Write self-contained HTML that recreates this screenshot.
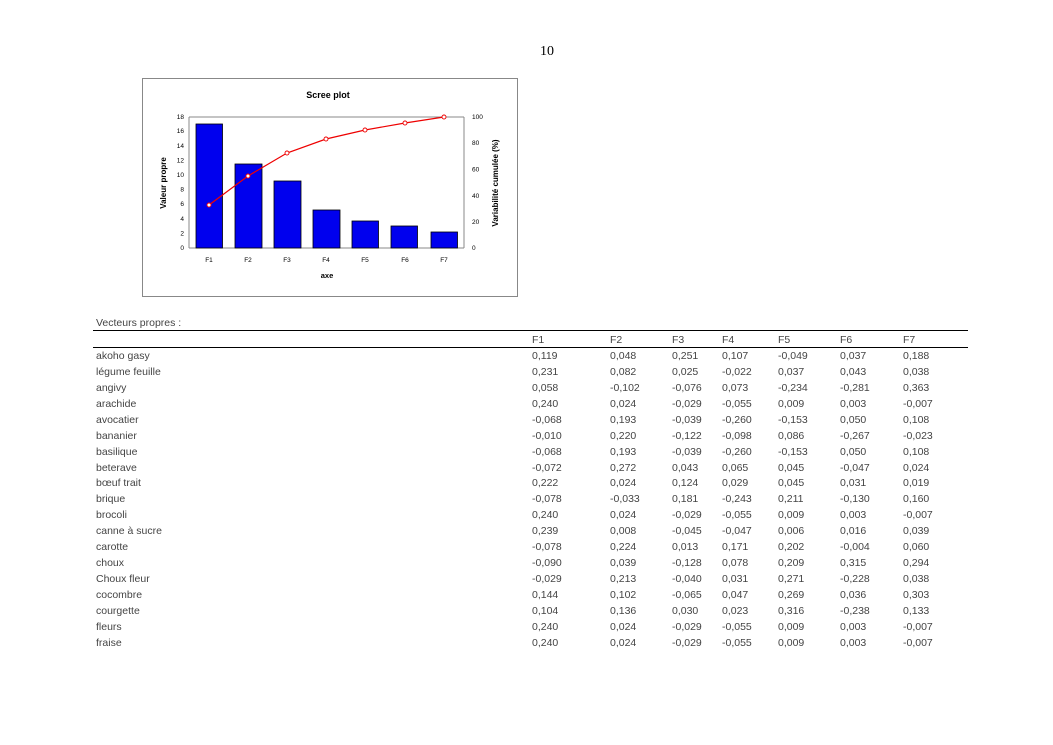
<!DOCTYPE html>
<html><head><meta charset="utf-8"><style>
body{margin:0;width:1053px;height:745px;background:#fff;position:relative;overflow:hidden;font-family:"Liberation Sans",sans-serif}
.r{position:absolute;left:0;height:16px;width:1053px;font-size:10.5px;color:#444;}
.r span{position:absolute;top:0;white-space:nowrap}
.a{left:96px}.b{left:532px}.c{left:610px}.d{left:672px}.e{left:722px}.f{left:778px}.g{left:840px}.h{left:903px}
</style></head><body>
<div style="position:absolute;left:540px;top:44px;font-family:'Liberation Serif',serif;font-size:14px">10</div>
<svg style="position:absolute;left:0;top:0" width="1053" height="360" font-family="Liberation Sans, sans-serif">
<rect x="142.5" y="78.5" width="375" height="218" fill="#fff" stroke="#888"/>
<text x="328" y="98" font-size="9" font-weight="bold" text-anchor="middle">Scree plot</text>
<line x1="189" y1="117" x2="189" y2="248" stroke="#888"/>
<line x1="464" y1="117" x2="464" y2="248" stroke="#888"/>
<line x1="189" y1="248" x2="464" y2="248" stroke="#888"/>
<line x1="189" y1="117" x2="464" y2="117" stroke="#888"/>
<g font-size="6.5" text-anchor="end">
<text x="184" y="250">0</text><text x="184" y="235.5">2</text><text x="184" y="221">4</text><text x="184" y="206">6</text><text x="184" y="191.5">8</text><text x="184" y="177">10</text><text x="184" y="162.5">12</text><text x="184" y="148">14</text><text x="184" y="133">16</text><text x="184" y="119">18</text>
</g>
<g font-size="6.5">
<text x="472" y="250">0</text><text x="472" y="224">20</text><text x="472" y="198">40</text><text x="472" y="171.5">60</text><text x="472" y="145">80</text><text x="472" y="119">100</text>
</g>
<g fill="#0000ee" stroke="#000" stroke-width="0.8">
<rect x="196" y="124" width="26.5" height="124"/>
<rect x="235" y="164" width="27" height="84"/>
<rect x="274" y="181" width="27" height="67"/>
<rect x="313" y="210" width="27" height="38"/>
<rect x="352" y="221" width="26.5" height="27"/>
<rect x="391" y="226" width="26.5" height="22"/>
<rect x="431" y="232" width="26.5" height="16"/>
</g>
<polyline points="209,205 248,176 287,153 326,139 365,130 405,123 444,117" fill="none" stroke="#e00" stroke-width="1.2"/>
<g fill="#fff" stroke="#e00" stroke-width="0.9">
<circle cx="209" cy="205" r="2"/><circle cx="248" cy="176" r="2"/><circle cx="287" cy="153" r="2"/><circle cx="326" cy="139" r="2"/><circle cx="365" cy="130" r="2"/><circle cx="405" cy="123" r="2"/><circle cx="444" cy="117" r="2"/>
</g>
<g font-size="6.5" text-anchor="middle">
<text x="209" y="262">F1</text><text x="248" y="262">F2</text><text x="287" y="262">F3</text><text x="326" y="262">F4</text><text x="365" y="262">F5</text><text x="405" y="262">F6</text><text x="444" y="262">F7</text>
</g>
<text x="327" y="278" font-size="7.5" font-weight="bold" text-anchor="middle">axe</text>
<text transform="translate(166,183) rotate(-90)" font-size="8" font-weight="bold" text-anchor="middle">Valeur propre</text>
<text transform="translate(498,183) rotate(-90)" font-size="8" font-weight="bold" text-anchor="middle">Variabilité cumulée (%)</text>
<line x1="93" y1="330.5" x2="968" y2="330.5" stroke="#000" stroke-width="1"/>
<line x1="93" y1="347.5" x2="968" y2="347.5" stroke="#000" stroke-width="1"/>
</svg>
<div class="r" style="top:317px"><span class="a">Vecteurs propres :</span></div>
<div class="r" style="top:334px"><span class="b">F1</span><span class="c">F2</span><span class="d">F3</span><span class="e">F4</span><span class="f">F5</span><span class="g">F6</span><span class="h">F7</span></div>
<div class="r" style="top:350px"><span class="a">akoho gasy</span><span class="b">0,119</span><span class="c">0,048</span><span class="d">0,251</span><span class="e">0,107</span><span class="f">-0,049</span><span class="g">0,037</span><span class="h">0,188</span></div>
<div class="r" style="top:366px"><span class="a">légume feuille</span><span class="b">0,231</span><span class="c">0,082</span><span class="d">0,025</span><span class="e">-0,022</span><span class="f">0,037</span><span class="g">0,043</span><span class="h">0,038</span></div>
<div class="r" style="top:382px"><span class="a">angivy</span><span class="b">0,058</span><span class="c">-0,102</span><span class="d">-0,076</span><span class="e">0,073</span><span class="f">-0,234</span><span class="g">-0,281</span><span class="h">0,363</span></div>
<div class="r" style="top:398px"><span class="a">arachide</span><span class="b">0,240</span><span class="c">0,024</span><span class="d">-0,029</span><span class="e">-0,055</span><span class="f">0,009</span><span class="g">0,003</span><span class="h">-0,007</span></div>
<div class="r" style="top:414px"><span class="a">avocatier</span><span class="b">-0,068</span><span class="c">0,193</span><span class="d">-0,039</span><span class="e">-0,260</span><span class="f">-0,153</span><span class="g">0,050</span><span class="h">0,108</span></div>
<div class="r" style="top:430px"><span class="a">bananier</span><span class="b">-0,010</span><span class="c">0,220</span><span class="d">-0,122</span><span class="e">-0,098</span><span class="f">0,086</span><span class="g">-0,267</span><span class="h">-0,023</span></div>
<div class="r" style="top:446px"><span class="a">basilique</span><span class="b">-0,068</span><span class="c">0,193</span><span class="d">-0,039</span><span class="e">-0,260</span><span class="f">-0,153</span><span class="g">0,050</span><span class="h">0,108</span></div>
<div class="r" style="top:462px"><span class="a">beterave</span><span class="b">-0,072</span><span class="c">0,272</span><span class="d">0,043</span><span class="e">0,065</span><span class="f">0,045</span><span class="g">-0,047</span><span class="h">0,024</span></div>
<div class="r" style="top:477px"><span class="a">bœuf trait</span><span class="b">0,222</span><span class="c">0,024</span><span class="d">0,124</span><span class="e">0,029</span><span class="f">0,045</span><span class="g">0,031</span><span class="h">0,019</span></div>
<div class="r" style="top:493px"><span class="a">brique</span><span class="b">-0,078</span><span class="c">-0,033</span><span class="d">0,181</span><span class="e">-0,243</span><span class="f">0,211</span><span class="g">-0,130</span><span class="h">0,160</span></div>
<div class="r" style="top:509px"><span class="a">brocoli</span><span class="b">0,240</span><span class="c">0,024</span><span class="d">-0,029</span><span class="e">-0,055</span><span class="f">0,009</span><span class="g">0,003</span><span class="h">-0,007</span></div>
<div class="r" style="top:525px"><span class="a">canne à sucre</span><span class="b">0,239</span><span class="c">0,008</span><span class="d">-0,045</span><span class="e">-0,047</span><span class="f">0,006</span><span class="g">0,016</span><span class="h">0,039</span></div>
<div class="r" style="top:541px"><span class="a">carotte</span><span class="b">-0,078</span><span class="c">0,224</span><span class="d">0,013</span><span class="e">0,171</span><span class="f">0,202</span><span class="g">-0,004</span><span class="h">0,060</span></div>
<div class="r" style="top:557px"><span class="a">choux</span><span class="b">-0,090</span><span class="c">0,039</span><span class="d">-0,128</span><span class="e">0,078</span><span class="f">0,209</span><span class="g">0,315</span><span class="h">0,294</span></div>
<div class="r" style="top:573px"><span class="a">Choux fleur</span><span class="b">-0,029</span><span class="c">0,213</span><span class="d">-0,040</span><span class="e">0,031</span><span class="f">0,271</span><span class="g">-0,228</span><span class="h">0,038</span></div>
<div class="r" style="top:589px"><span class="a">cocombre</span><span class="b">0,144</span><span class="c">0,102</span><span class="d">-0,065</span><span class="e">0,047</span><span class="f">0,269</span><span class="g">0,036</span><span class="h">0,303</span></div>
<div class="r" style="top:605px"><span class="a">courgette</span><span class="b">0,104</span><span class="c">0,136</span><span class="d">0,030</span><span class="e">0,023</span><span class="f">0,316</span><span class="g">-0,238</span><span class="h">0,133</span></div>
<div class="r" style="top:621px"><span class="a">fleurs</span><span class="b">0,240</span><span class="c">0,024</span><span class="d">-0,029</span><span class="e">-0,055</span><span class="f">0,009</span><span class="g">0,003</span><span class="h">-0,007</span></div>
<div class="r" style="top:637px"><span class="a">fraise</span><span class="b">0,240</span><span class="c">0,024</span><span class="d">-0,029</span><span class="e">-0,055</span><span class="f">0,009</span><span class="g">0,003</span><span class="h">-0,007</span></div>
</body></html>
